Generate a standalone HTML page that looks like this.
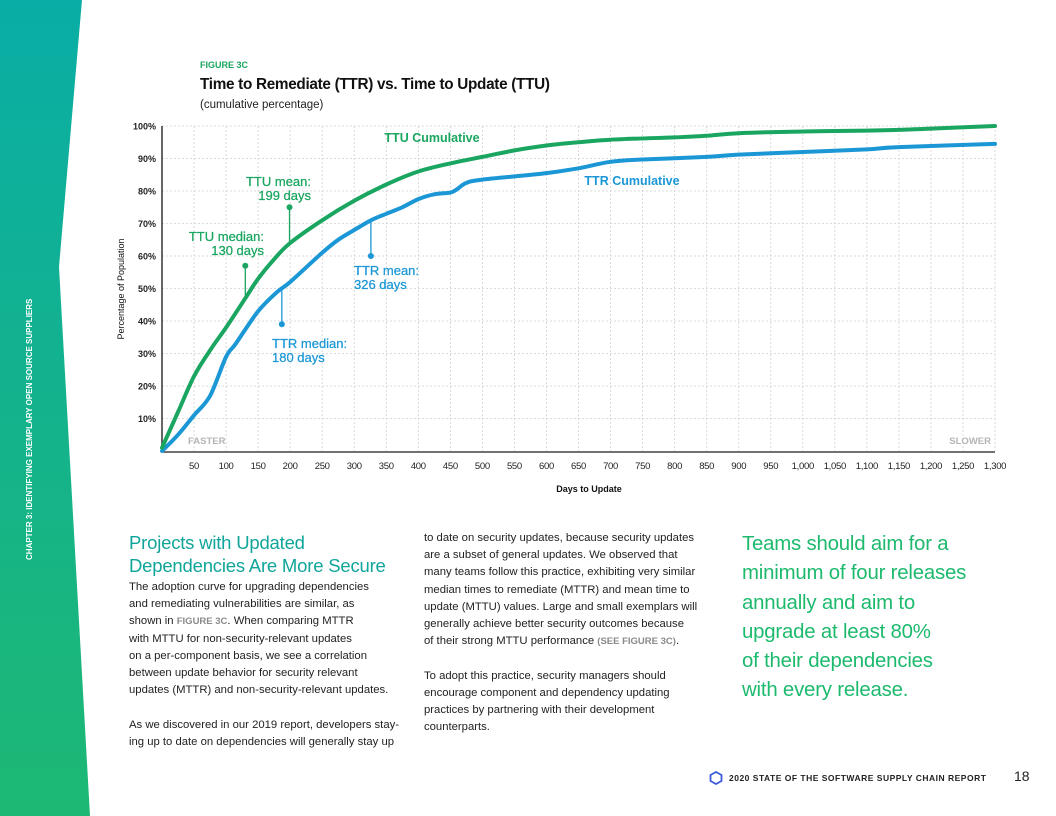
<!DOCTYPE html>
<html><head><meta charset="utf-8">
<style>
*{margin:0;padding:0;box-sizing:border-box}
body{width:1056px;height:816px;position:relative;background:#fff;font-family:"Liberation Sans",sans-serif;overflow:hidden;color:#222}
.abs{position:absolute}
.body{font-size:11.3px;line-height:17.2px;color:#222;letter-spacing:0px;white-space:nowrap}
.ref{color:#8a8a8a;font-size:9.5px;font-weight:bold}
</style></head><body>
<svg class="abs" style="left:0;top:0" width="100" height="816">
<defs><linearGradient id="g" x1="0" y1="0" x2="0" y2="1"><stop offset="0" stop-color="#0aada5"/><stop offset="1" stop-color="#1db874"/></linearGradient></defs>
<polygon points="0,0 82,0 59,267 90,816 0,816" fill="url(#g)"/>
<text transform="translate(32,560) rotate(-90)" font-size="8" font-weight="bold" fill="#fff" font-family="Liberation Sans Narrow, Liberation Sans, sans-serif">CHAPTER 3: IDENTIFYING EXEMPLARY OPEN SOURCE SUPPLIERS</text>
</svg>
<div class="abs" style="left:200px;top:60px;font-size:9px;font-weight:bold;color:#1aa660">FIGURE 3C</div>
<div class="abs" style="left:200px;top:76px;font-size:15.3px;font-weight:bold;color:#111;letter-spacing:-0.3px">Time to Remediate (TTR) vs. Time to Update (TTU)</div>
<div class="abs" style="left:200px;top:99px;font-size:11.5px;color:#222">(cumulative percentage)</div>
<svg id="chart" class="abs" style="left:0;top:0" width="1056" height="500"></svg>

<div class="abs" style="left:129px;top:531px;font-size:18.5px;line-height:23px;color:#10a59a;letter-spacing:-0.2px">Projects with Updated<br>Dependencies Are More Secure</div>
<div class="abs body" style="left:129px;top:579px">The adoption curve for upgrading dependencies<br>and remediating vulnerabilities are similar, as<br>shown in <span class="ref">FIGURE 3C</span>. When comparing MTTR<br>with MTTU for non-security-relevant updates<br>on a per-component basis, we see a correlation<br>between update behavior for security relevant<br>updates (MTTR) and non-security-relevant updates.<br><br>As we discovered in our 2019 report, developers stay-<br>ing up to date on dependencies will generally stay up</div>
<div class="abs body" style="left:424px;top:530px">to date on security updates, because security updates<br>are a subset of general updates. We observed that<br>many teams follow this practice, exhibiting very similar<br>median times to remediate (MTTR) and mean time to<br>update (MTTU) values. Large and small exemplars will<br>generally achieve better security outcomes because<br>of their strong MTTU performance <span class="ref">(SEE FIGURE 3C)</span>.<br><br>To adopt this practice, security managers should<br>encourage component and dependency updating<br>practices by partnering with their development<br>counterparts.</div>
<div class="abs" style="left:742px;top:530px;font-size:20.4px;line-height:29.3px;color:#1dba6e;letter-spacing:-0.2px">Teams should aim for a<br>minimum of four releases<br>annually and aim to<br>upgrade at least 80%<br>of their dependencies<br>with every release.</div>

<svg class="abs" style="left:709px;top:771px" width="14" height="14"><polygon points="7,1 12.5,4 12.5,10 7,13 1.5,10 1.5,4" fill="none" stroke="#3b5bdb" stroke-width="1.8"/></svg>
<div class="abs" style="left:729px;top:773px;font-size:8.5px;font-weight:bold;color:#222;letter-spacing:0.5px">2020 STATE OF THE SOFTWARE SUPPLY CHAIN REPORT</div>
<div class="abs" style="left:1014px;top:768px;font-size:14px;color:#222">18</div>

<script>
const xTicks=[50,100,150,200,250,300,350,400,450,500,550,600,650,700,750,800,850,900,950,1000,1050,1100,1150,1200,1250,1300];
const xTickLabels=["50","100","150","200","250","300","350","400","450","500","550","600","650","700","750","800","850","900","950","1,000","1,050","1,100","1,150","1,200","1,250","1,300"];
const yTicks=[10,20,30,40,50,60,70,80,90,100];
const ttuDays=[0,25,50,75,100,130,150,175,200,250,300,350,400,450,500,550,600,650,700,800,850,900,1000,1100,1150,1200,1300];
const ttuPct=[1,12,23,31,38,47,53,59,64,71,77,82,86,88.5,90.5,92.5,94,95,95.8,96.5,97,97.8,98.3,98.6,98.8,99.2,100];
const ttrDays=[0,25,50,75,100,115,150,180,200,250,275,300,326,350,375,400,425,450,460,475,500,600,650,700,750,850,900,1000,1100,1150,1300];
const ttrPct=[0,5,11,17,29,33,43,49,52,61,65,68,71,73,75,77.5,79,79.5,80.5,82.5,83.5,85.5,87,89,89.7,90.5,91.2,92,92.8,93.5,94.5];
const markers=[
 {days:130,pct:57,curve:"ttu",color:"#1aa660",lines:["TTU median:","130 days"],lx:264,ly:241,anchor:"end"},
 {days:199,pct:75,curve:"ttu",color:"#1aa660",lines:["TTU mean:","199 days"],lx:311,ly:186,anchor:"end"},
 {days:187,pct:39,curve:"ttr",color:"#1b97d6",lines:["TTR median:","180 days"],lx:272,ly:348,anchor:"start"},
 {days:326,pct:60,curve:"ttr",color:"#1b97d6",lines:["TTR mean:","326 days"],lx:354,ly:275,anchor:"start"}
];
const X=d=>162+d*0.6408, Y=p=>451-p*3.25;
const svg=document.getElementById('chart');const NS='http://www.w3.org/2000/svg';
function mk(t,a,txt){const e=document.createElementNS(NS,t);for(const k in a)e.setAttribute(k,a[k]);if(txt!==undefined)e.textContent=txt;svg.appendChild(e);return e;}
function interp(ds,ps,d){for(let i=1;i<ds.length;i++){if(d<=ds[i]){const t=(d-ds[i-1])/(ds[i]-ds[i-1]);return ps[i-1]+t*(ps[i]-ps[i-1]);}}return ps[ps.length-1];}
yTicks.forEach(v=>{
 const g=mk('line',{x1:162,x2:995,y1:Y(v),y2:Y(v),stroke:'#d0d0d0','stroke-dasharray':'2,2','stroke-width':0.8});
 
 const t=mk('text',{x:156,y:Y(v)+3.5,'text-anchor':'end','font-size':9,'font-weight':'bold',fill:'#222'},v+'%');
 
});
xTicks.forEach((v,i)=>{
 const g=mk('line',{x1:X(v),x2:X(v),y1:126,y2:451,stroke:'#d0d0d0','stroke-dasharray':'2,2','stroke-width':0.8});
 
 const t=mk('text',{x:X(v),y:469,'text-anchor':'middle','font-size':9.5,fill:'#222','letter-spacing':'-0.3'},xTickLabels[i]);
 
});
let a=mk('line',{x1:162,x2:162,y1:126,y2:452,stroke:'#333','stroke-width':1.5});
a=mk('line',{x1:162,x2:995,y1:452,y2:452,stroke:'#444','stroke-width':1.5});
a=mk('text',{transform:'translate(124,289) rotate(-90)','text-anchor':'middle','font-size':9,fill:'#111'},'Percentage of Population');
a=mk('text',{x:589,y:492,'text-anchor':'middle','font-size':9,'font-weight':'bold',fill:'#111'},'Days to Update');
a=mk('text',{x:188,y:444,'font-size':9.5,'font-weight':'bold',fill:'#b5b5b5'},'FASTER');
a=mk('text',{x:991,y:444,'text-anchor':'end','font-size':9.5,'font-weight':'bold',fill:'#b5b5b5'},'SLOWER');
function path(ds,ps){
 const pts=ds.map((d,i)=>[X(d),Y(ps[i])]);
 let s='M'+pts[0][0].toFixed(1)+','+pts[0][1].toFixed(1);
 for(let i=0;i<pts.length-1;i++){
  const p0=pts[Math.max(0,i-1)],p1=pts[i],p2=pts[i+1],p3=pts[Math.min(pts.length-1,i+2)];
  const c1=[p1[0]+(p2[0]-p0[0])/6,p1[1]+(p2[1]-p0[1])/6],c2=[p2[0]-(p3[0]-p1[0])/6,p2[1]-(p3[1]-p1[1])/6];
  s+=' C'+c1.map(v=>v.toFixed(1)).join(',')+' '+c2.map(v=>v.toFixed(1)).join(',')+' '+p2.map(v=>v.toFixed(1)).join(',');
 }
 return s;
}
a=mk('path',{d:path(ttrDays,ttrPct),fill:'none',stroke:'#1b97d6','stroke-width':4,'stroke-linejoin':'round','stroke-linecap':'round'});
a=mk('path',{d:path(ttuDays,ttuPct),fill:'none',stroke:'#1aa660','stroke-width':4,'stroke-linejoin':'round','stroke-linecap':'round'});
a=mk('text',{x:432,y:142,'text-anchor':'middle','font-size':12.5,'font-weight':'bold',fill:'#1aa660'},'TTU Cumulative');
a=mk('text',{x:632,y:185,'text-anchor':'middle','font-size':12.5,'font-weight':'bold',fill:'#1b97d6'},'TTR Cumulative');
markers.forEach(m=>{
 const cp=m.curve==='ttu'?interp(ttuDays,ttuPct,m.days):interp(ttrDays,ttrPct,m.days);
 let l=mk('line',{x1:X(m.days),x2:X(m.days),y1:Y(m.pct),y2:Y(cp),stroke:m.color,'stroke-width':1.3});
 
 let c=mk('circle',{cx:X(m.days),cy:Y(m.pct),r:3,fill:m.color});
 
 m.lines.forEach((s,i)=>{const t=mk('text',{x:m.lx,y:m.ly+i*14,'text-anchor':m.anchor,'font-size':13,'font-weight':'500',fill:m.color,stroke:m.color,'stroke-width':0.25},s);
  });
});
</script>
</body></html>
